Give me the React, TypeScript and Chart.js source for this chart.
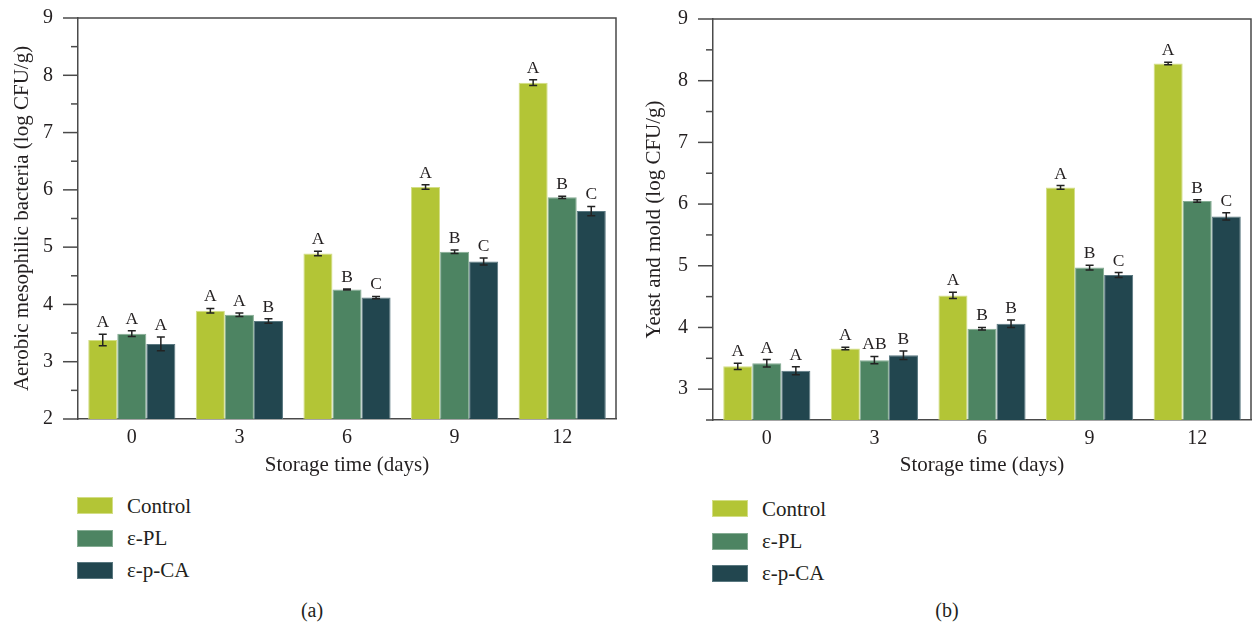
import React, { useEffect, useRef } from 'react';
import { Chart, registerables } from 'chart.js';
Chart.register(...registerables);

const FONT = '"Liberation Serif", "Times New Roman", serif';
const TEXT = '#231f20';
const AXIS = '#4a4a4a';

// ---- data ----
const storageDays = ['0', '3', '6', '9', '12'];
const seriesNames = ['Control', 'ε-PL', 'ε-p-CA'];
const seriesFill = ['#b3c536', '#4d8462', '#22464f'];
const seriesEdge = ['#d3de86', '#86ad94', '#5a7880'];

// (a) Aerobic mesophilic bacteria
const bacteriaControl = [3.38, 3.89, 4.89, 6.05, 7.87];
const bacteriaPL = [3.49, 3.82, 4.26, 4.92, 5.87];
const bacteriaPCA = [3.31, 3.71, 4.12, 4.75, 5.63];
const bacteriaControlErr = [0.1, 0.04, 0.04, 0.04, 0.05];
const bacteriaPLErr = [0.05, 0.03, 0.01, 0.03, 0.02];
const bacteriaPCAErr = [0.12, 0.04, 0.02, 0.06, 0.08];
const bacteriaControlSig = ['A', 'A', 'A', 'A', 'A'];
const bacteriaPLSig = ['A', 'A', 'B', 'B', 'B'];
const bacteriaPCASig = ['A', 'B', 'C', 'C', 'C'];

// (b) Yeast and mold
const yeastControl = [3.37, 3.66, 4.52, 6.27, 8.28];
const yeastPL = [3.42, 3.47, 3.98, 4.97, 6.05];
const yeastPCA = [3.3, 3.55, 4.06, 4.85, 5.8];
const yeastControlErr = [0.05, 0.02, 0.05, 0.03, 0.02];
const yeastPLErr = [0.06, 0.06, 0.02, 0.04, 0.02];
const yeastPCAErr = [0.065, 0.07, 0.06, 0.04, 0.06];
const yeastControlSig = ['A', 'A', 'A', 'A', 'A'];
const yeastPLSig = ['A', 'AB', 'B', 'B', 'B'];
const yeastPCASig = ['A', 'B', 'B', 'C', 'C'];

const isWhole = (v: number) => Math.abs(v - Math.round(v)) < 1e-6;

const decorPlugin = {
  id: 'decor',
  afterDraw(chart: any) {
    const { ctx, chartArea: a, scales } = chart;
    const y = scales.y;
    ctx.save();
    // frame top & right
    ctx.strokeStyle = AXIS;
    ctx.lineWidth = 1.5;
    ctx.beginPath();
    ctx.moveTo(a.left, a.top);
    ctx.lineTo(a.right, a.top);
    ctx.lineTo(a.right, a.bottom);
    ctx.stroke();
    // y tick marks (major / minor)
    y.ticks.forEach((t: any) => {
      const py = y.getPixelForValue(t.value);
      const len = isWhole(t.value) ? 15 : 7;
      ctx.beginPath();
      ctx.moveTo(a.left - len, py);
      ctx.lineTo(a.left, py);
      ctx.stroke();
    });
    // error bars and letters
    ctx.strokeStyle = '#222';
    ctx.fillStyle = TEXT;
    ctx.lineWidth = 1.5;
    ctx.font = `17.5px ${FONT}`;
    ctx.textAlign = 'center';
    ctx.textBaseline = 'alphabetic';
    chart.data.datasets.forEach((ds: any, i: number) => {
      const meta = chart.getDatasetMeta(i);
      meta.data.forEach((bar: any, j: number) => {
        const v = ds.data[j];
        const e = ds.errors[j];
        const yt = y.getPixelForValue(v + e);
        const yb = y.getPixelForValue(v - e);
        const x = bar.x;
        ctx.beginPath();
        ctx.moveTo(x, yt);
        ctx.lineTo(x, yb);
        ctx.moveTo(x - 4, yt);
        ctx.lineTo(x + 4, yt);
        ctx.moveTo(x - 4, yb);
        ctx.lineTo(x + 4, yb);
        ctx.stroke();
        ctx.fillText(ds.sigs[j], x, yt - 7);
      });
    });
    ctx.restore();
  },
};

type PanelProps = {
  left: number;
  values: number[][];
  errors: number[][];
  sigs: string[][];
  yMin: number;
  yTitle: string;
  padding: { top: number; right: number; bottom: number; left: number };
  yWidth: number;
  xHeight: number;
  yTitlePad: number;
};

function BarPanel(props: PanelProps) {
  const ref = useRef<HTMLCanvasElement>(null);
  useEffect(() => {
    const chart = new Chart(ref.current as HTMLCanvasElement, {
      type: 'bar',
      data: {
        labels: storageDays,
        datasets: props.values.map((vals, i) => ({
          label: seriesNames[i],
          data: vals,
          errors: props.errors[i],
          sigs: props.sigs[i],
          backgroundColor: seriesFill[i],
          borderColor: seriesEdge[i],
          borderWidth: 1,
          categoryPercentage: 0.81,
          barPercentage: 1,
        })) as any,
      },
      options: {
        responsive: false,
        animation: false,
        devicePixelRatio: 1,
        layout: { padding: props.padding },
        plugins: { legend: { display: false }, tooltip: { enabled: false } },
        scales: {
          x: {
            z: 1,
            grid: {
              display: true,
              drawOnChartArea: false,
              drawTicks: true,
              tickLength: 7,
              color: 'rgba(0,0,0,0)',
              tickColor: 'rgba(0,0,0,0)',
            },
            border: { display: true, color: AXIS, width: 1.5 },
            ticks: { color: TEXT, font: { family: FONT, size: 20 }, padding: 0, maxRotation: 0 },
            title: {
              display: true,
              text: 'Storage time (days)',
              color: TEXT,
              font: { family: FONT, size: 21 },
              padding: { top: 0, bottom: 1.5 },
            },
            afterFit: (s: any) => {
              s.height = props.xHeight;
            },
          },
          y: {
            z: 1,
            min: props.yMin,
            max: 9,
            grid: {
              display: true,
              drawOnChartArea: false,
              drawTicks: true,
              tickLength: 25,
              color: 'rgba(0,0,0,0)',
              tickColor: 'rgba(0,0,0,0)',
            },
            border: { display: true, color: AXIS, width: 1.5 },
            ticks: {
              stepSize: 0.5,
              autoSkip: false,
              color: TEXT,
              font: { family: FONT, size: 20 },
              padding: 0,
              callback: (v: any) => (isWhole(Number(v)) ? String(Math.round(Number(v))) : ''),
            },
            title: {
              display: true,
              text: props.yTitle,
              color: TEXT,
              font: { family: FONT, size: 21 },
              padding: { top: props.yTitlePad, bottom: 0 },
            },
            afterFit: (s: any) => {
              s.width = props.yWidth;
            },
          },
        },
      } as any,
      plugins: [decorPlugin],
    });
    return () => chart.destroy();
  }, []);
  return (
    <canvas
      ref={ref}
      width={626}
      height={480}
      style={{ position: 'absolute', left: props.left, top: 0, width: 626, height: 480 }}
    />
  );
}

function Legend({ left, top, textLeft }: { left: number; top: number; textLeft: number }) {
  return (
    <>
      {seriesNames.map((name, i) => (
        <React.Fragment key={name}>
          <div
            style={{
              position: 'absolute',
              left,
              top: top + i * 32.3 - 8.5,
              width: 36,
              height: 17,
              background: seriesFill[i],
              boxShadow: `inset 0 0 0 1px ${seriesEdge[i]}`,
            }}
          />
          <div
            style={{
              position: 'absolute',
              left: textLeft,
              top: top + i * 32.3 - 14,
              height: 28,
              lineHeight: '28px',
              fontFamily: FONT,
              fontSize: 21,
              color: TEXT,
              whiteSpace: 'nowrap',
            }}
          >
            {name}
          </div>
        </React.Fragment>
      ))}
    </>
  );
}

function PanelTag({ x, y, text }: { x: number; y: number; text: string }) {
  return (
    <div
      style={{
        position: 'absolute',
        left: x - 30,
        top: y - 14,
        width: 60,
        height: 28,
        lineHeight: '28px',
        textAlign: 'center',
        fontFamily: FONT,
        fontSize: 20,
        color: TEXT,
      }}
    >
      {text}
    </div>
  );
}

export default function App() {
  return (
    <div
      style={{
        position: 'absolute',
        left: 0,
        top: 0,
        width: 1252,
        height: 622,
        background: '#fff',
        overflow: 'hidden',
      }}
    >
      <BarPanel
        left={0}
        values={[bacteriaControl, bacteriaPL, bacteriaPCA]}
        errors={[bacteriaControlErr, bacteriaPLErr, bacteriaPCAErr]}
        sigs={[bacteriaControlSig, bacteriaPLSig, bacteriaPCASig]}
        yMin={2}
        yTitle="Aerobic mesophilic bacteria (log CFU/g)"
        padding={{ top: 18, right: 10, bottom: 0, left: 0 }}
        yWidth={78}
        xHeight={61}
        yTitlePad={10}
      />
      <BarPanel
        left={626}
        values={[yeastControl, yeastPL, yeastPCA]}
        errors={[yeastControlErr, yeastPLErr, yeastPCAErr]}
        sigs={[yeastControlSig, yeastPLSig, yeastPCASig]}
        yMin={2.5}
        yTitle="Yeast and mold (log CFU/g)"
        padding={{ top: 19, right: 1, bottom: 0, left: 0 }}
        yWidth={87}
        xHeight={60}
        yTitlePad={16}
      />
      <Legend left={77} top={505.7} textLeft={127} />
      <Legend left={712} top={508.7} textLeft={762} />
      <PanelTag x={312} y={610} text="(a)" />
      <PanelTag x={947} y={610} text="(b)" />
    </div>
  );
}
